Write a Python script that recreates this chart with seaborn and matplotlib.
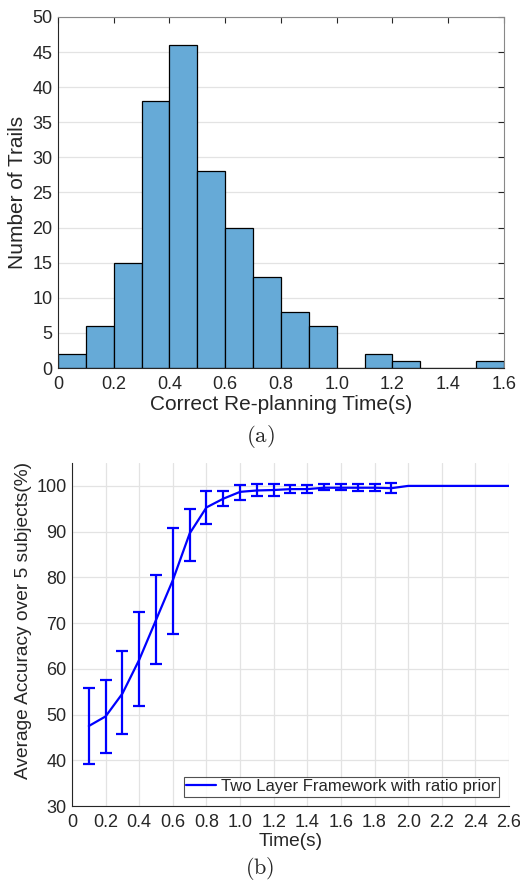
import numpy as np
import pandas as pd
import seaborn as sns
import matplotlib
matplotlib.use('Agg')
import matplotlib.pyplot as plt

sns.set_style('white')
plt.rcParams['font.family'] = ['Liberation Sans', 'DejaVu Sans']
plt.rcParams['mathtext.fontset'] = 'cm'

# (a) histogram of re-planning times, bins of 0.1 s
bin_edges = [0.0, 0.1, 0.2, 0.3, 0.4, 0.5, 0.6, 0.7, 0.8, 0.9, 1.0, 1.1, 1.2, 1.3, 1.4, 1.5, 1.6]
bin_counts = [2, 6, 15, 38, 46, 28, 20, 13, 8, 6, 0, 2, 1, 0, 0, 1]

# (b) accuracy vs time
t = [0.1, 0.2, 0.3, 0.4, 0.5, 0.6, 0.7, 0.8, 0.9, 1.0, 1.1, 1.2, 1.3, 1.4, 1.5, 1.6, 1.7, 1.8, 1.9,
     2.0, 2.1, 2.2, 2.3, 2.4, 2.5, 2.6]
acc = [47.5, 49.6, 54.6, 62.0, 70.7, 79.4, 89.6, 95.3, 97.2, 98.7, 99.0, 99.1, 99.3, 99.3, 99.6, 99.6,
       99.6, 99.6, 99.5, 100, 100, 100, 100, 100, 100, 100]
err_t = [0.1, 0.2, 0.3, 0.4, 0.5, 0.6, 0.7, 0.8, 0.9, 1.0, 1.1, 1.2, 1.3, 1.4, 1.5, 1.6, 1.7, 1.8, 1.9]
err_lo = [39.1, 41.5, 45.7, 51.8, 61.0, 67.6, 83.6, 91.7, 95.6, 97.0, 97.7, 97.7, 98.5, 98.5, 99.0, 99.0,
          98.9, 98.9, 98.4]
err_hi = [55.7, 57.5, 63.9, 72.4, 80.6, 90.9, 94.9, 98.8, 98.8, 100.2, 100.4, 100.4, 100.2, 100.2, 100.4,
          100.4, 100.4, 100.4, 100.6]

hist_df = pd.DataFrame({'time': [(a + b) / 2 for a, b in zip(bin_edges[:-1], bin_edges[1:])],
                        'count': bin_counts})
acc_df = pd.DataFrame({'t': t, 'acc': acc})

fig = plt.figure(figsize=(5.2, 8.84), dpi=100)
grid_col = '#e3e3e3'
axis_col = '#262626'
tick_fs = 13

# ---- top chart
ax1 = fig.add_axes([0.1115, 0.5837, 0.969 - 0.1115, 0.9808 - 0.5837])
sns.histplot(data=hist_df, x='time', weights='count', bins=bin_edges, ax=ax1,
             color='#66aad7', alpha=1, edgecolor='black', linewidth=0.9)
ax1.set_xlim(0, 1.6)
ax1.set_ylim(0, 50)
ax1.set_xticks(np.arange(0, 1.61, 0.2))
ax1.set_xticklabels(['0'] + ['%.1f' % v for v in np.arange(0.2, 1.61, 0.2)])
ax1.set_yticks(range(0, 51, 5))
ax1.yaxis.grid(True, color=grid_col, linewidth=0.9)
ax1.set_axisbelow(True)
ax1.tick_params(direction='in', top=True, right=True, labelsize=tick_fs, colors=axis_col,
                length=4, width=0.8)
ax1.tick_params(axis='x', pad=6)
ax1.tick_params(axis='y', pad=4)
for s in ax1.spines.values():
    s.set_color(axis_col)
    s.set_linewidth(0.8)
ax1.spines['right'].set_color('#888888')
ax1.spines['top'].set_color('#888888')
ax1.set_xlabel('Correct Re-planning Time(s)', fontsize=15, color=axis_col, labelpad=1)
ax1.set_ylabel('Number of Trails', fontsize=15, color=axis_col, labelpad=3.5)
fig.text(0.5, 1 - 436 / 884, r'$\mathrm{(a)}$', ha='center', va='center', fontsize=16.5)

# ---- bottom chart
ax2 = fig.add_axes([0.1385, 0.0882, 0.9788 - 0.1385, 0.4762 - 0.0882])
sns.lineplot(data=acc_df, x='t', y='acc', ax=ax2, color='#0000ff', linewidth=1.6,
             label='Two Layer Framework with ratio prior')
ax2.errorbar(err_t, acc[:len(err_t)],
             yerr=[np.array(acc[:len(err_t)]) - np.array(err_lo),
                   np.array(err_hi) - np.array(acc[:len(err_t)])],
             fmt='none', ecolor='#0000ff', elinewidth=1.6, capsize=4, capthick=1.6)
ax2.set_xlim(0, 2.6)
ax2.set_ylim(30, 105)
ax2.set_xticks(np.arange(0, 2.61, 0.2))
ax2.set_xticklabels(['0'] + ['%.1f' % v for v in np.arange(0.2, 2.61, 0.2)])
ax2.set_yticks(range(30, 101, 10))
ax2.grid(True, color=grid_col, linewidth=0.9)
ax2.set_axisbelow(True)
ax2.tick_params(direction='in', labelsize=tick_fs, colors=axis_col, length=4, width=0.8)
ax2.tick_params(axis='x', pad=6)
ax2.tick_params(axis='y', pad=4)
ax2.spines['top'].set_visible(False)
ax2.spines['right'].set_visible(False)
for s in ['left', 'bottom']:
    ax2.spines[s].set_color(axis_col)
    ax2.spines[s].set_linewidth(0.8)
ax2.set_xlabel('Time(s)', fontsize=13.8, color=axis_col, labelpad=1.5)
ax2.set_ylabel('Average Accuracy over 5 subjects(%)', fontsize=13.8, color=axis_col, labelpad=3)
ax2.yaxis.label.set_y(0.542)
leg = ax2.legend(loc='lower right', fontsize=12, frameon=True, fancybox=False,
                 borderpad=0.15, handlelength=1.8, handletextpad=0.3, borderaxespad=0,
                 bbox_to_anchor=(0.977, 0.027))
leg.get_frame().set_edgecolor(axis_col)
leg.get_frame().set_linewidth(0.8)
fig.text(0.5, 1 - 869 / 884, r'$\mathrm{(b)}$', ha='center', va='center', fontsize=16)

fig.savefig('out.png', dpi=100)
